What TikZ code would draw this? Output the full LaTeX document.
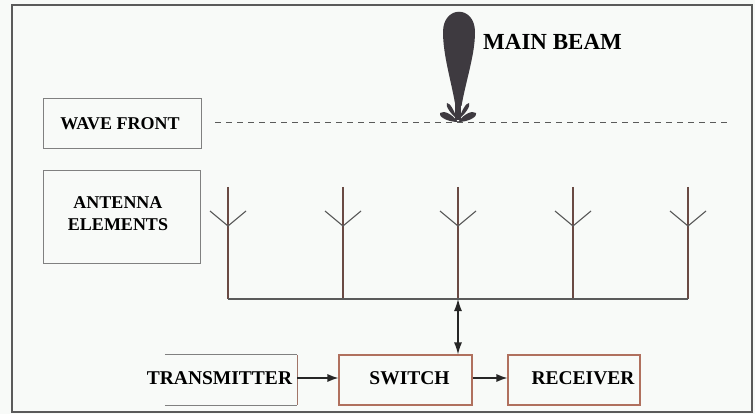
\documentclass[tikz,border=0pt]{standalone}
\usepackage{fontspec}
\setmainfont{Liberation Serif}
\usetikzlibrary{arrows.meta}
\definecolor{bgc}{HTML}{F8FAF8}
\definecolor{framec}{HTML}{5A5A5A}
\definecolor{boxgray}{HTML}{808080}
\definecolor{brownbox}{HTML}{B0705E}
\definecolor{antc}{HTML}{6A4A44}
\definecolor{beamc}{HTML}{3E3A40}
\tikzset{
  lbl/.style={font=\fontsize{18}{22}\selectfont\bfseries, text=black, align=center, inner sep=0pt},
  blk/.style={font=\fontsize{19.5}{22}\selectfont\bfseries, text=black, inner sep=0pt},
  graybox/.style={draw=boxgray, line width=0.9pt, inner sep=0pt},
  brbox/.style={draw=brownbox, line width=1.1pt, inner sep=0pt},
  ant/.style={draw=antc, line width=1.1pt},
  arm/.style={draw=framec, line width=1.1pt},
  busl/.style={draw=framec, line width=1.3pt},
  arr/.style={draw=black!85, line width=1.2pt, -{Latex[length=11pt,width=8pt]}},
  biarr/.style={draw=black!85, line width=1.2pt, {Latex[length=12pt,width=8pt]}-{Latex[length=12pt,width=8pt]}},
}
\begin{document}
\begin{tikzpicture}[x=1pt,y=-1pt]
\useasboundingbox (0,0) rectangle (755,414);
\fill[bgc] (0,0) rectangle (755,414);
% outer frame
\draw[framec, line width=1.8pt] (12,5) rectangle (752,412);

% label boxes
\node[graybox, minimum width=158pt, minimum height=50pt] (wfbox) at (122,123) {};
\node[lbl] (wft) at (120,124) {WAVE FRONT};
\node[graybox, minimum width=157pt, minimum height=93pt] (aebox) at (121.5,216.5) {};
\node[lbl] (aet) at (118,214) {ANTENNA\\ELEMENTS};

% wave front dashed line
\coordinate (wf1) at (215,123);
\coordinate (wf2) at (728,123);
\draw[framec, line width=1pt, dash pattern=on 6pt off 5pt] (wf1) -- (wf2);

% main beam
\fill[beamc] (455.5,106) .. controls (451,80) and (443,55) .. (443,32)
  .. controls (443,5) and (475,5) .. (475,32)
  .. controls (475,55) and (466,80) .. (461.5,106) -- cycle;
\fill[beamc] (458,122) .. controls (452,114) and (444,110) .. (440,113)
  .. controls (438.5,118) and (450,122) .. (458,122) -- cycle;
\fill[beamc] (458,122) .. controls (464,114) and (472,110) .. (476,113)
  .. controls (477.5,118) and (466,122) .. (458,122) -- cycle;
\fill[beamc] (457,119) .. controls (454,110) and (450,103) .. (447,103)
  .. controls (445,106) and (451,114) .. (457,119) -- cycle;
\fill[beamc] (459,119) .. controls (462,110) and (466,103) .. (469,103)
  .. controls (471,106) and (465,114) .. (459,119) -- cycle;
\fill[beamc] (455,104) rectangle (461,120);
\node[font=\fontsize{23}{25}\selectfont\bfseries, text=black, inner sep=0pt, anchor=west] (mb) at (483,42) {MAIN BEAM};

% antenna elements
\foreach \i/\x in {1/228,2/343,3/458,4/573,5/688}{
  \coordinate (top\i) at (\x,187);
  \coordinate (j\i) at (\x,226);
  \coordinate (la\i) at (\x-18,211);
  \coordinate (ra\i) at (\x+18,211);
  \coordinate (b\i) at (\x,299);
  \draw[ant] (top\i) -- (b\i);
  \draw[arm] (la\i) -- (j\i) -- (ra\i);
}
\draw[busl] (b1) -- (b5);

% lower blocks
\node[minimum width=132pt, minimum height=50pt, inner sep=0pt] (tx) at (231,380) {};
\draw[boxgray, line width=0.8pt] (tx.north west) -- (tx.north east);
\draw[boxgray, line width=0.8pt] (tx.south west) -- (tx.south east);
\draw[brownbox!70!gray, line width=0.8pt] (tx.north east) -- (tx.south east);
\node[blk] (txt) at (219.5,378) {TRANSMITTER};

\node[brbox, minimum width=133pt, minimum height=50pt] (sw) at (405.5,380) {};
\node[blk] (swt) at (409.5,378) {SWITCH};

\node[brbox, minimum width=132pt, minimum height=50pt] (rx) at (574,380) {};
\node[blk] (rxt) at (583,378) {RECEIVER};

% connectors
\draw[arr] (tx.east |- 0,378) -- (sw.west |- 0,378);
\draw[arr] (sw.east |- 0,378) -- (rx.west |- 0,378);
\draw[biarr] (b3) -- (sw.north -| b3);
\end{tikzpicture}
\end{document}
